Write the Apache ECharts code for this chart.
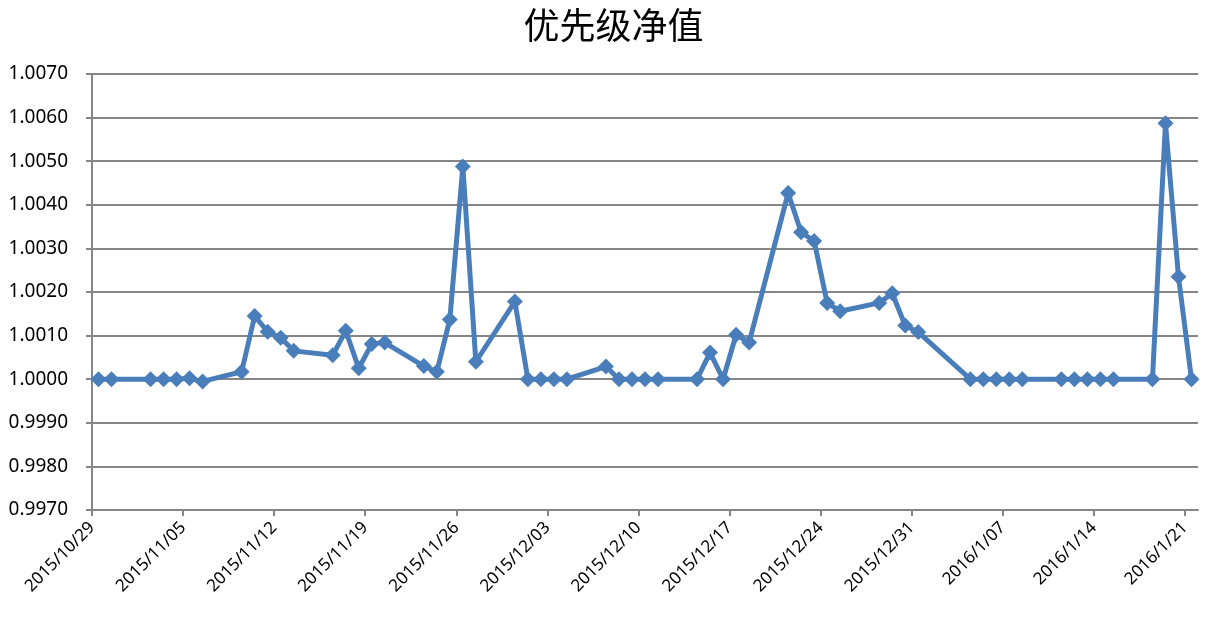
<!DOCTYPE html>
<html>
<head>
<meta charset="utf-8">
<script src="https://cdn.jsdelivr.net/npm/echarts@6/dist/echarts.min.js"></script>
<style>
html,body{margin:0;padding:0;background:#fff;}
#chart{width:1227px;height:628px;}
</style>
</head>
<body>
<div id="chart"></div>
<script>
var titleText = '优先级净值';
var dates = [
  '2015/10/29','2015/10/30','2015/11/02','2015/11/03','2015/11/04','2015/11/05','2015/11/06',
  '2015/11/09','2015/11/10','2015/11/11','2015/11/12','2015/11/13',
  '2015/11/16','2015/11/17','2015/11/18','2015/11/19','2015/11/20',
  '2015/11/23','2015/11/24','2015/11/25','2015/11/26','2015/11/27',
  '2015/11/30','2015/12/01','2015/12/02','2015/12/03','2015/12/04',
  '2015/12/07','2015/12/08','2015/12/09','2015/12/10','2015/12/11',
  '2015/12/14','2015/12/15','2015/12/16','2015/12/17','2015/12/18',
  '2015/12/21','2015/12/22','2015/12/23','2015/12/24','2015/12/25',
  '2015/12/28','2015/12/29','2015/12/30','2015/12/31',
  '2016/1/04','2016/1/05','2016/1/06','2016/1/07','2016/1/08',
  '2016/1/11','2016/1/12','2016/1/13','2016/1/14','2016/1/15',
  '2016/1/18','2016/1/19','2016/1/20','2016/1/21'
];
var navValues = [
  1.0000, 1.0000, 1.0000, 1.0000, 1.0000, 1.00002, 0.99995,
  1.00017, 1.00145, 1.00109, 1.00095, 1.00065,
  1.00055, 1.00111, 1.00025, 1.00081, 1.00084,
  1.00030, 1.00017, 1.00137, 1.00488, 1.00040,
  1.00178, 1.0000, 1.0000, 1.0000, 1.0000,
  1.00029, 1.0000, 1.0000, 1.0000, 1.0000,
  1.0000, 1.00061, 1.0000, 1.00102, 1.00084,
  1.00427, 1.00337, 1.00317, 1.00175, 1.00156,
  1.00175, 1.00197, 1.00123, 1.00108,
  1.0000, 1.0000, 1.0000, 1.0000, 1.0000,
  1.0000, 1.0000, 1.0000, 1.0000, 1.0000,
  1.0000, 1.00587, 1.00235, 1.0000
];
var xTickLabels = ['2015/10/29','2015/11/05','2015/11/12','2015/11/19','2015/11/26','2015/12/03','2015/12/10','2015/12/17','2015/12/24','2015/12/31','2016/1/07','2016/1/14','2016/1/21'];
var xAxisStart = '2015/10/29';
var xAxisEnd = '2016/1/22';
var yMin = 0.997, yMax = 1.007, yStep = 0.001;

var DAY = 86400000;
function dayNum(s) {
  var p = s.split('/');
  return Math.round(Date.UTC(+p[0], +p[1] - 1, +p[2]) / DAY);
}
var d0 = dayNum(xAxisStart);
var labelMap = {};
var tickPos = xTickLabels.map(function (s) { var t = dayNum(s) - d0; labelMap[t] = s; return t; });
// each day occupies one unit; points sit at the middle of their day
var seriesData = dates.map(function (d, i) { return [dayNum(d) - d0 + 0.5, navValues[i]]; });

var font = '"Noto Sans", "Liberation Sans", sans-serif';
var chart = echarts.init(document.getElementById('chart'), null, {renderer: 'canvas'});
chart.setOption({
  animation: false,
  backgroundColor: '#fff',
  title: {
    text: titleText,
    left: 'center',
    top: 2,
    textStyle: {fontFamily: '"Noto Sans CJK SC", sans-serif', fontSize: 36, fontWeight: 'normal', color: '#000'}
  },
  grid: {left: 92, right: 29, top: 74, bottom: 118, containLabel: false},
  xAxis: {
    type: 'value',
    min: 0,
    max: dayNum(xAxisEnd) - d0,
    axisLine: {show: true, onZero: false, lineStyle: {color: '#868686', width: 2}},
    axisTick: {show: true, length: 6, inside: false, customValues: tickPos, lineStyle: {color: '#868686', width: 2}},
    axisLabel: {
      customValues: tickPos,
      rotate: 45,
      margin: 15,
      fontFamily: font,
      fontSize: 17,
      color: '#000',
      formatter: function (v) { return labelMap[Math.round(v)] || ''; }
    },
    splitLine: {show: false}
  },
  yAxis: {
    type: 'value',
    min: yMin,
    max: yMax,
    interval: yStep,
    axisLine: {show: true, lineStyle: {color: '#868686', width: 2}},
    axisTick: {show: true, length: 6, lineStyle: {color: '#868686', width: 2}},
    axisLabel: {
      margin: 24,
      fontFamily: font,
      fontSize: 19,
      color: '#000',
      formatter: function (v) { return v.toFixed(4); }
    },
    splitLine: {show: true, lineStyle: {color: '#868686', width: 2}}
  },
  series: [{
    type: 'line',
    data: seriesData,
    symbol: 'diamond',
    symbolSize: 16,
    showAllSymbol: true,
    lineStyle: {color: '#4A7EBB', width: 5},
    itemStyle: {color: '#4A7EBB'}
  }]
});
</script>
</body>
</html>
